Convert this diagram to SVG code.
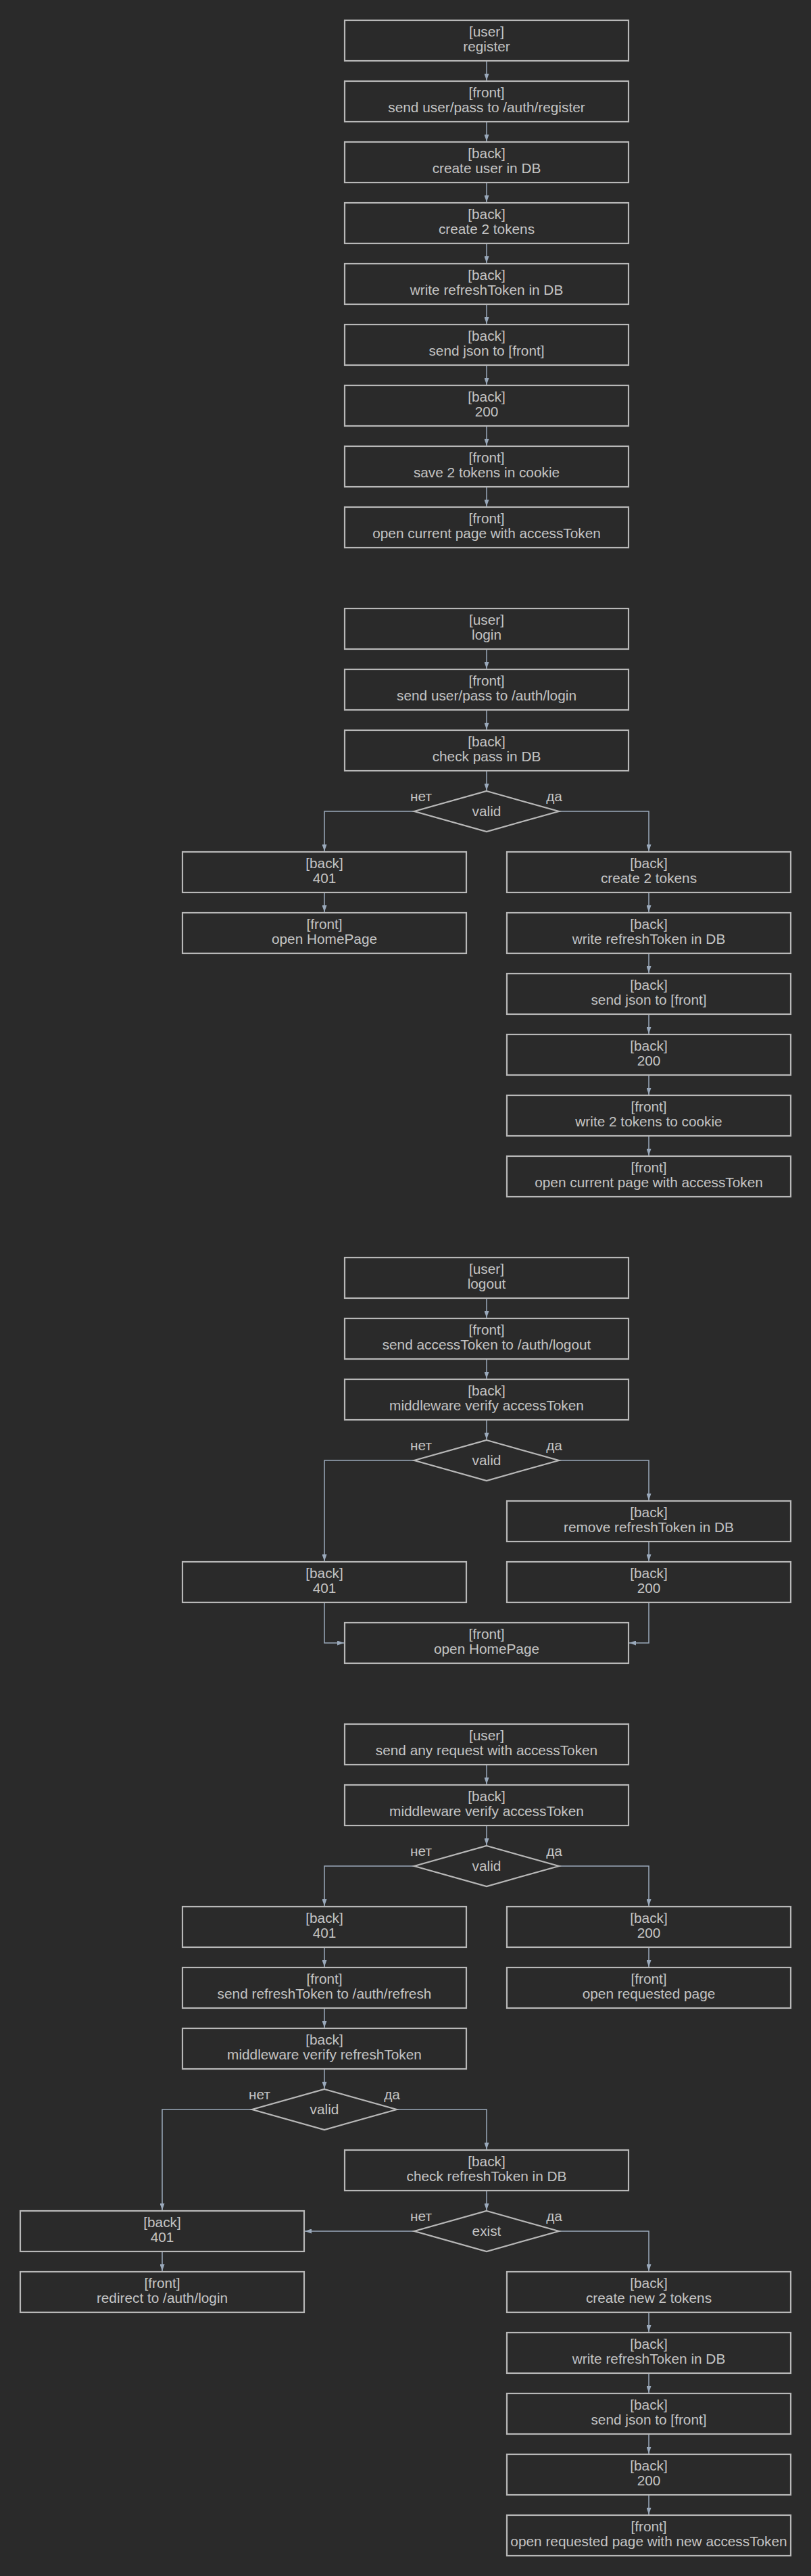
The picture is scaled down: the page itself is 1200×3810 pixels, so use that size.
<svg xmlns="http://www.w3.org/2000/svg" width="1200" height="3810" viewBox="0 0 1200 3810">
<style>
.bg{fill:#2a2a2a}
.node rect,.node polygon{fill:#2a2a2a;stroke:#b8b8b8;stroke-width:2.2}
.node text{font-family:"Liberation Sans",Arial,sans-serif;font-size:20.8px;fill:#c4c4c4;text-anchor:middle}
.edge{fill:none;stroke:#9aa9bb;stroke-width:1.5}
.lbl{font-family:"Liberation Sans",Arial,sans-serif;font-size:20.8px;fill:#c4c4c4;text-anchor:middle}
</style>
<defs>
<marker id="arr" markerUnits="userSpaceOnUse" markerWidth="10" markerHeight="7" refX="10" refY="3.5" orient="auto">
<path d="M0,0 L10,3.5 L0,7 z" fill="#9aa9bb"/>
</marker>
</defs>
<rect class="bg" x="0" y="0" width="1200" height="3810"/>

<g id="edges">
<!-- section 1 -->
<path class="edge" d="M720,91 V119" marker-end="url(#arr)"/>
<path class="edge" d="M720,181 V209" marker-end="url(#arr)"/>
<path class="edge" d="M720,271 V299" marker-end="url(#arr)"/>
<path class="edge" d="M720,361 V389" marker-end="url(#arr)"/>
<path class="edge" d="M720,451 V479" marker-end="url(#arr)"/>
<path class="edge" d="M720,541 V569" marker-end="url(#arr)"/>
<path class="edge" d="M720,631 V659" marker-end="url(#arr)"/>
<path class="edge" d="M720,721 V749" marker-end="url(#arr)"/>
<!-- section 2 -->
<path class="edge" d="M720,961 V989" marker-end="url(#arr)"/>
<path class="edge" d="M720,1051 V1079" marker-end="url(#arr)"/>
<path class="edge" d="M720,1141 V1169" marker-end="url(#arr)"/>
<path class="edge" d="M613,1200 H480 V1259" marker-end="url(#arr)"/>
<path class="edge" d="M827,1200 H960 V1259" marker-end="url(#arr)"/>
<path class="edge" d="M480,1321 V1349" marker-end="url(#arr)"/>
<path class="edge" d="M960,1321 V1349" marker-end="url(#arr)"/>
<path class="edge" d="M960,1411 V1439" marker-end="url(#arr)"/>
<path class="edge" d="M960,1501 V1529" marker-end="url(#arr)"/>
<path class="edge" d="M960,1591 V1619" marker-end="url(#arr)"/>
<path class="edge" d="M960,1681 V1709" marker-end="url(#arr)"/>
<!-- section 3 -->
<path class="edge" d="M720,1921 V1949" marker-end="url(#arr)"/>
<path class="edge" d="M720,2011 V2039" marker-end="url(#arr)"/>
<path class="edge" d="M720,2101 V2129" marker-end="url(#arr)"/>
<path class="edge" d="M613,2160 H480 V2309" marker-end="url(#arr)"/>
<path class="edge" d="M827,2160 H960 V2219" marker-end="url(#arr)"/>
<path class="edge" d="M960,2281 V2309" marker-end="url(#arr)"/>
<path class="edge" d="M480,2371 V2430 H509" marker-end="url(#arr)"/>
<path class="edge" d="M960,2371 V2430 H931" marker-end="url(#arr)"/>
<!-- section 4 -->
<path class="edge" d="M720,2611 V2639" marker-end="url(#arr)"/>
<path class="edge" d="M720,2701 V2729" marker-end="url(#arr)"/>
<path class="edge" d="M613,2760 H480 V2819" marker-end="url(#arr)"/>
<path class="edge" d="M827,2760 H960 V2819" marker-end="url(#arr)"/>
<path class="edge" d="M480,2881 V2909" marker-end="url(#arr)"/>
<path class="edge" d="M960,2881 V2909" marker-end="url(#arr)"/>
<path class="edge" d="M480,2971 V2999" marker-end="url(#arr)"/>
<path class="edge" d="M480,3061 V3089" marker-end="url(#arr)"/>
<path class="edge" d="M373,3120 H240 V3269" marker-end="url(#arr)"/>
<path class="edge" d="M587,3120 H720 V3179" marker-end="url(#arr)"/>
<path class="edge" d="M720,3241 V3269" marker-end="url(#arr)"/>
<path class="edge" d="M613,3300 H451" marker-end="url(#arr)"/>
<path class="edge" d="M827,3300 H960 V3359" marker-end="url(#arr)"/>
<path class="edge" d="M240,3331 V3359" marker-end="url(#arr)"/>
<path class="edge" d="M960,3421 V3449" marker-end="url(#arr)"/>
<path class="edge" d="M960,3511 V3539" marker-end="url(#arr)"/>
<path class="edge" d="M960,3601 V3629" marker-end="url(#arr)"/>
<path class="edge" d="M960,3691 V3719" marker-end="url(#arr)"/>
<!-- edge labels -->
<text class="lbl" x="623" y="1185">нет</text><text class="lbl" x="820" y="1185">да</text>
<text class="lbl" x="623" y="2145">нет</text><text class="lbl" x="820" y="2145">да</text>
<text class="lbl" x="623" y="2745">нет</text><text class="lbl" x="820" y="2745">да</text>
<text class="lbl" x="384" y="3105">нет</text><text class="lbl" x="580" y="3105">да</text>
<text class="lbl" x="623" y="3285">нет</text><text class="lbl" x="820" y="3285">да</text>
</g>

<!-- Section 1: register -->
<g id="r1" class="node"><rect x="510" y="30" width="420" height="60"/><text x="720" y="54">[user]</text><text x="720" y="75.5">register</text></g>
<g id="r2" class="node"><rect x="510" y="120" width="420" height="60"/><text x="720" y="144">[front]</text><text x="720" y="165.5">send user/pass to /auth/register</text></g>
<g id="r3" class="node"><rect x="510" y="210" width="420" height="60"/><text x="720" y="234">[back]</text><text x="720" y="255.5">create user in DB</text></g>
<g id="r4" class="node"><rect x="510" y="300" width="420" height="60"/><text x="720" y="324">[back]</text><text x="720" y="345.5">create 2 tokens</text></g>
<g id="r5" class="node"><rect x="510" y="390" width="420" height="60"/><text x="720" y="414">[back]</text><text x="720" y="435.5">write refreshToken in DB</text></g>
<g id="r6" class="node"><rect x="510" y="480" width="420" height="60"/><text x="720" y="504">[back]</text><text x="720" y="525.5">send json to [front]</text></g>
<g id="r7" class="node"><rect x="510" y="570" width="420" height="60"/><text x="720" y="594">[back]</text><text x="720" y="615.5">200</text></g>
<g id="r8" class="node"><rect x="510" y="660" width="420" height="60"/><text x="720" y="684">[front]</text><text x="720" y="705.5">save 2 tokens in cookie</text></g>
<g id="r9" class="node"><rect x="510" y="750" width="420" height="60"/><text x="720" y="774">[front]</text><text x="720" y="795.5">open current page with accessToken</text></g>

<!-- Section 2: login -->
<g id="l1" class="node"><rect x="510" y="900" width="420" height="60"/><text x="720" y="924">[user]</text><text x="720" y="945.5">login</text></g>
<g id="l2" class="node"><rect x="510" y="990" width="420" height="60"/><text x="720" y="1014">[front]</text><text x="720" y="1035.5">send user/pass to /auth/login</text></g>
<g id="l3" class="node"><rect x="510" y="1080" width="420" height="60"/><text x="720" y="1104">[back]</text><text x="720" y="1125.5">check pass in DB</text></g>
<g id="l4" class="node"><polygon points="720,1170 827,1200 720,1230 613,1200"/><text x="720" y="1207">valid</text></g>
<g id="l5" class="node"><rect x="270" y="1260" width="420" height="60"/><text x="480" y="1284">[back]</text><text x="480" y="1305.5">401</text></g>
<g id="l6" class="node"><rect x="270" y="1350" width="420" height="60"/><text x="480" y="1374">[front]</text><text x="480" y="1395.5">open HomePage</text></g>
<g id="l7" class="node"><rect x="750" y="1260" width="420" height="60"/><text x="960" y="1284">[back]</text><text x="960" y="1305.5">create 2 tokens</text></g>
<g id="l8" class="node"><rect x="750" y="1350" width="420" height="60"/><text x="960" y="1374">[back]</text><text x="960" y="1395.5">write refreshToken in DB</text></g>
<g id="l9" class="node"><rect x="750" y="1440" width="420" height="60"/><text x="960" y="1464">[back]</text><text x="960" y="1485.5">send json to [front]</text></g>
<g id="l10" class="node"><rect x="750" y="1530" width="420" height="60"/><text x="960" y="1554">[back]</text><text x="960" y="1575.5">200</text></g>
<g id="l11" class="node"><rect x="750" y="1620" width="420" height="60"/><text x="960" y="1644">[front]</text><text x="960" y="1665.5">write 2 tokens to cookie</text></g>
<g id="l12" class="node"><rect x="750" y="1710" width="420" height="60"/><text x="960" y="1734">[front]</text><text x="960" y="1755.5">open current page with accessToken</text></g>

<!-- Section 3: logout -->
<g id="o1" class="node"><rect x="510" y="1860" width="420" height="60"/><text x="720" y="1884">[user]</text><text x="720" y="1905.5">logout</text></g>
<g id="o2" class="node"><rect x="510" y="1950" width="420" height="60"/><text x="720" y="1974">[front]</text><text x="720" y="1995.5">send accessToken to /auth/logout</text></g>
<g id="o3" class="node"><rect x="510" y="2040" width="420" height="60"/><text x="720" y="2064">[back]</text><text x="720" y="2085.5">middleware verify accessToken</text></g>
<g id="o4" class="node"><polygon points="720,2130 827,2160 720,2190 613,2160"/><text x="720" y="2167">valid</text></g>
<g id="o5" class="node"><rect x="750" y="2220" width="420" height="60"/><text x="960" y="2244">[back]</text><text x="960" y="2265.5">remove refreshToken in DB</text></g>
<g id="o6" class="node"><rect x="270" y="2310" width="420" height="60"/><text x="480" y="2334">[back]</text><text x="480" y="2355.5">401</text></g>
<g id="o7" class="node"><rect x="750" y="2310" width="420" height="60"/><text x="960" y="2334">[back]</text><text x="960" y="2355.5">200</text></g>
<g id="o8" class="node"><rect x="510" y="2400" width="420" height="60"/><text x="720" y="2424">[front]</text><text x="720" y="2445.5">open HomePage</text></g>

<!-- Section 4: any request -->
<g id="a1" class="node"><rect x="510" y="2550" width="420" height="60"/><text x="720" y="2574">[user]</text><text x="720" y="2595.5">send any request with accessToken</text></g>
<g id="a2" class="node"><rect x="510" y="2640" width="420" height="60"/><text x="720" y="2664">[back]</text><text x="720" y="2685.5">middleware verify accessToken</text></g>
<g id="a3" class="node"><polygon points="720,2730 827,2760 720,2790 613,2760"/><text x="720" y="2767">valid</text></g>
<g id="a4" class="node"><rect x="270" y="2820" width="420" height="60"/><text x="480" y="2844">[back]</text><text x="480" y="2865.5">401</text></g>
<g id="a5" class="node"><rect x="750" y="2820" width="420" height="60"/><text x="960" y="2844">[back]</text><text x="960" y="2865.5">200</text></g>
<g id="a6" class="node"><rect x="270" y="2910" width="420" height="60"/><text x="480" y="2934">[front]</text><text x="480" y="2955.5">send refreshToken to /auth/refresh</text></g>
<g id="a7" class="node"><rect x="750" y="2910" width="420" height="60"/><text x="960" y="2934">[front]</text><text x="960" y="2955.5">open requested page</text></g>
<g id="a8" class="node"><rect x="270" y="3000" width="420" height="60"/><text x="480" y="3024">[back]</text><text x="480" y="3045.5">middleware verify refreshToken</text></g>
<g id="a9" class="node"><polygon points="480,3090 587,3120 480,3150 373,3120"/><text x="480" y="3127">valid</text></g>
<g id="a10" class="node"><rect x="510" y="3180" width="420" height="60"/><text x="720" y="3204">[back]</text><text x="720" y="3225.5">check refreshToken in DB</text></g>
<g id="a11" class="node"><polygon points="720,3270 827,3300 720,3330 613,3300"/><text x="720" y="3307">exist</text></g>
<g id="a12" class="node"><rect x="30" y="3270" width="420" height="60"/><text x="240" y="3294">[back]</text><text x="240" y="3315.5">401</text></g>
<g id="a13" class="node"><rect x="30" y="3360" width="420" height="60"/><text x="240" y="3384">[front]</text><text x="240" y="3405.5">redirect to /auth/login</text></g>
<g id="a14" class="node"><rect x="750" y="3360" width="420" height="60"/><text x="960" y="3384">[back]</text><text x="960" y="3405.5">create new 2 tokens</text></g>
<g id="a15" class="node"><rect x="750" y="3450" width="420" height="60"/><text x="960" y="3474">[back]</text><text x="960" y="3495.5">write refreshToken in DB</text></g>
<g id="a16" class="node"><rect x="750" y="3540" width="420" height="60"/><text x="960" y="3564">[back]</text><text x="960" y="3585.5">send json to [front]</text></g>
<g id="a17" class="node"><rect x="750" y="3630" width="420" height="60"/><text x="960" y="3654">[back]</text><text x="960" y="3675.5">200</text></g>
<g id="a18" class="node"><rect x="750" y="3720" width="420" height="60"/><text x="960" y="3744">[front]</text><text x="960" y="3765.5">open requested page with new accessToken</text></g>
</svg>
